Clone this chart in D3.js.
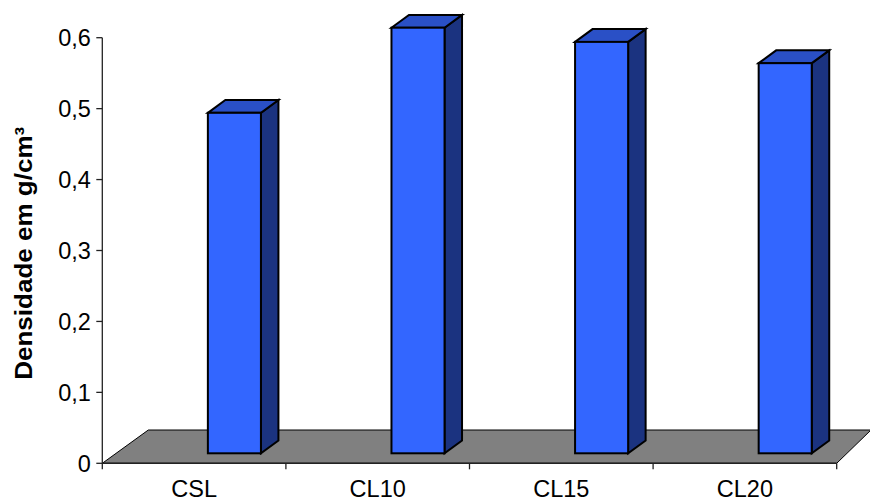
<!DOCTYPE html>
<html>
<head>
<meta charset="utf-8">
<script src="https://cdn.jsdelivr.net/npm/d3@7"></script>
<style>
  html, body { margin: 0; padding: 0; background: #ffffff; }
  svg { display: block; }
  text { font-family: "Liberation Sans", Arial, sans-serif; fill: #000; }
</style>
</head>
<body>
<svg id="chart" width="870" height="502"></svg>
<script>
// Density per sample (g/cm³)
const categories = ["CSL", "CL10", "CL15", "CL20"];
const densities = [0.48, 0.60, 0.58, 0.55];
const yTickValues = [0, 0.1, 0.2, 0.3, 0.4, 0.5, 0.6];
const yTitle = "Densidade em g/cm³";

const width = 870, height = 502;
const svg = d3.select("#chart");

// Front plane of the 3-D box
const plotLeft = 102.3, plotRight = 836.7;
const yBottom = 463.3, yTop = 37.7;

const x = d3.scaleBand().domain(categories).range([plotLeft, plotRight]).padding(0);
const y = d3.scaleLinear().domain([0, 0.6]).range([yBottom, yTop]);

// Oblique depth of the floor and of each column
const floorDepth = { dxLeft: 46, dxRight: 34.3, dy: 33.3 };
const barShift = { dy: -10 };          // column front face sits a little behind the floor edge
const barDepth = { dx: 17.5, dy: 12.8 };
const barOffset = 0.575;               // fraction of band before the column's front face
const barWidthFrac = 0.289;

const fmt = v => d3.format(".1f")(v).replace(".", ",");

// Floor
const f0 = y(0);
const floorPts = [
  [plotLeft, f0],
  [plotRight, f0],
  [plotRight + floorDepth.dxRight, f0 - floorDepth.dy],
  [plotLeft + floorDepth.dxLeft, f0 - floorDepth.dy]
];
svg.append("polygon")
  .attr("points", floorPts.map(p => p.join(",")).join(" "))
  .attr("fill", "#808080")
  .attr("stroke", "#000")
  .attr("stroke-width", 1)
  .attr("stroke-linejoin", "miter");

// Value axis
const yAxisG = svg.append("g").attr("class", "y-axis");
yAxisG.append("line")
  .attr("x1", plotLeft).attr("x2", plotLeft)
  .attr("y1", y(0.6)).attr("y2", y(0) + 6)
  .attr("stroke", "#222").attr("stroke-width", 1.3);
yAxisG.selectAll("line.tick").data(yTickValues).join("line")
  .attr("class", "tick")
  .attr("x1", plotLeft - 6).attr("x2", plotLeft)
  .attr("y1", d => y(d)).attr("y2", d => y(d))
  .attr("stroke", "#222").attr("stroke-width", 1.3);
yAxisG.selectAll("text").data(yTickValues).join("text")
  .attr("x", plotLeft - 11.5)
  .attr("y", d => y(d))
  .attr("dy", "0.36em")
  .attr("text-anchor", "end")
  .attr("font-size", 23.5)
  .text(d => d === 0 ? "0" : fmt(d));

// Category axis along the floor's front edge
const xAxisG = svg.append("g").attr("class", "x-axis");
xAxisG.append("line")
  .attr("x1", plotLeft).attr("x2", plotRight)
  .attr("y1", y(0)).attr("y2", y(0))
  .attr("stroke", "#222").attr("stroke-width", 1.6);
xAxisG.selectAll("line.tick").data(categories).join("line")
  .attr("class", "tick")
  .attr("x1", d => x(d) + x.bandwidth()).attr("x2", d => x(d) + x.bandwidth())
  .attr("y1", y(0)).attr("y2", y(0) + 6)
  .attr("stroke", "#222").attr("stroke-width", 1.3);
xAxisG.selectAll("text").data(categories).join("text")
  .attr("x", d => x(d) + x.bandwidth() / 2)
  .attr("y", 497.3)
  .attr("text-anchor", "middle")
  .attr("font-size", 23.5)
  .text(d => d);

// Columns
const data = categories.map((c, i) => ({ cat: c, value: densities[i] }));
const bw = x.bandwidth() * barWidthFrac;
const bars = svg.append("g").attr("class", "bars")
  .selectAll("g").data(data).join("g");

const geom = d => {
  const x0 = x(d.cat) + x.bandwidth() * barOffset;
  const x1 = x0 + bw;
  const yb = y(0) + barShift.dy;
  const yt = y(d.value) + barShift.dy;
  return { x0, x1, yb, yt };
};
const poly = pts => pts.map(p => p.join(",")).join(" ");

bars.append("polygon") // side face
  .attr("points", d => {
    const g = geom(d);
    return poly([[g.x1, g.yt], [g.x1 + barDepth.dx, g.yt - barDepth.dy],
                 [g.x1 + barDepth.dx, g.yb - barDepth.dy], [g.x1, g.yb]]);
  })
  .attr("fill", "#1b3380");
bars.append("polygon") // top face
  .attr("points", d => {
    const g = geom(d);
    return poly([[g.x0, g.yt], [g.x0 + barDepth.dx, g.yt - barDepth.dy],
                 [g.x1 + barDepth.dx, g.yt - barDepth.dy], [g.x1, g.yt]]);
  })
  .attr("fill", "#2a50c6");
bars.append("rect") // front face
  .attr("x", d => geom(d).x0)
  .attr("y", d => geom(d).yt)
  .attr("width", bw)
  .attr("height", d => geom(d).yb - geom(d).yt)
  .attr("fill", "#3366ff");
bars.selectAll("polygon, rect")
  .attr("stroke", "#000")
  .attr("stroke-width", 2)
  .attr("stroke-linejoin", "miter");

// Axis title
svg.append("text")
  .attr("transform", "translate(32,253.3) rotate(-90)")
  .attr("text-anchor", "middle")
  .attr("font-size", 24)
  .attr("font-weight", "bold")
  .attr("textLength", 253)
  .attr("lengthAdjust", "spacingAndGlyphs")
  .text(yTitle);
</script>
</body>
</html>
